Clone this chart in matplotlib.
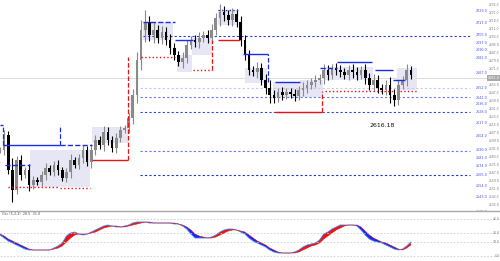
import matplotlib
matplotlib.use("Agg")
import matplotlib.pyplot as plt
import numpy as np

# ---- data (price units) ----
closes = [2590,2605,2570,2550,2580,2565,2570,2555,2560,2558,
          2565,2572,2568,2575,2570,2562,2568,2580,2575,2582,
          2590,2578,2590,2600,2595,2608,2600,2592,2602,2610,
          2612,2622,2645,2680,2710,2718,2705,2710,2702,2708,
          2700,2692,2685,2678,2682,2695,2700,2698,2702,2705,
          2702,2710,2722,2728,2725,2720,2726,2718,2700,2685,
          2670,2668,2672,2660,2652,2645,2642,2648,2645,2648,
          2646,2644,2650,2652,2655,2658,2660,2662,2670,2665,
          2672,2670,2668,2665,2670,2668,2665,2670,2662,2655,
          2660,2652,2650,2655,2645,2640,2655,2660,2670,2665]
wicks = [3,5,4,12,4,5,3,6,4,3, 4,5,3,4,5,3,4,6,3,4,
         5,4,6,5,4,6,5,4,5,4, 3,5,6,8,10,12,6,8,5,6,
         5,6,5,4,6,5,4,5,6,4, 5,6,5,8,6,5,6,5,6,5,
         5,4,6,5,6,8,5,4,5,4, 4,5,4,6,5,4,5,4,6,5,
         4,5,5,4,5,6,5,4,6,5, 6,5,4,5,8,6,5,4,6,4]

osc_main = [26,23,20,18,16,14,12,11,11,11, 11,11,11,13,15,18,25,28,29,27,
            26,27,29,31,33,35,36,35,34,34, 35,36,38,39,39,39,38,38,38,38,
            38,38,37,37,35,32,27,23,23,23, 23,24,26,29,31,32,32,31,29,27,
            23,20,18,16,14,11,9,8,8,8, 8,9,11,14,16,17,18,21,27,29,
            32,34,36,36,36,36,35,31,26,22, 20,19,18,16,14,12,11,12,15,19]
osc_signal = [27,25,22,20,18,16,14,12,11,11, 11,11,11,12,13,15,19,23,26,27,
              27,27,28,29,31,33,34,35,35,34, 34,35,36,37,38,39,39,38,38,38,
              38,38,38,37,36,34,31,27,25,24, 23,23,24,26,28,30,31,31,30,29,
              26,23,20,18,16,13,11,9,8,8, 8,8,9,11,13,15,16,18,22,25,
              28,31,33,35,36,36,36,34,30,26, 23,21,19,18,16,14,12,11,13,16]

box_t0 = [7.2,22.2,34.5,42.7,46.3,52.5,59.0,65.8,72.3,78.3,95.7]
box_t1 = [21.7,30.8,41.7,46.3,51.1,57.3,64.3,72.3,77.8,89.9,100.5]
box_hi = [2590,2613,2718,2685,2702,2730,2672,2658,2660,2673,2672]
box_lo = [2553,2597,2700,2668,2685,2715,2657,2643,2643,2660,2650]

blue_t0 = [0,0.7,1.2,14.5,34.5,42.2,52.5,58.6,66.3,77.1,81.2,90.4,94.7]
blue_t1 = [0.7,14.5,7.2,22.2,42.2,46.5,57.3,64.6,72.3,81.2,89.6,94.7,97.6]
blue_p = [2615,2595,2575,2595,2718,2700,2730,2686,2658,2672,2678,2670,2660]
blue_ls = ['--','-','--','--','--','-',':','-','-','--','-','-','-']

red_t0 = [2,14.5,22.2,34,46.5,52.5,66.3,78.3,96.4]
red_t1 = [14,21.7,30.8,42.2,51.1,57.8,77.6,95.2,100.5]
red_p = [2553,2552,2580,2683,2670,2700,2628,2649,2649]
red_ls = [':',':','-',':',':','-','-',':',':']

level_start = [34.5,33.7,33.7,33.7,33.7,33.7]
level_price = [2704,2652,2643,2628,2589,2565]
level_color = ['#2a3ae8','#c8c8f0','#6a78f0','#3344d8','#6a78f0','#2233c8']

label_prices = [2729,2717,2705,2697,2690,2682,2667,2652,2642,2636,2628,2617,
                2604,2590,2582,2574,2565,2554,2543,2528]
osc_levels = [42,28,19,5]

# ---- figure ----
fig = plt.figure(figsize=(5.0, 2.61), dpi=100)
ax = fig.add_axes([0, 51/261, 1, 210/261])
ax2 = fig.add_axes([0, 0, 1, 50/261])
XMAX = 500/4.15
ax.set_xlim(0, XMAX); ax.set_ylim(2530, 2740)
ax2.set_xlim(0, XMAX); ax2.set_ylim(0, 50)
for a in (ax, ax2):
    a.set_xticks([]); a.set_yticks([])
    for s in a.spines.values():
        s.set_visible(False)
ax2.spines['top'].set_visible(True)
ax2.spines['top'].set_color('#aaaaaa')
ax2.spines['top'].set_linewidth(1.0)

x = np.arange(len(closes))

# boxes
for t0, t1, hi, lo in zip(box_t0, box_t1, box_hi, box_lo):
    ax.fill_between([t0, t1], lo, hi, color='#e6e6f4', lw=0, zorder=1)

# current price line
ax.axhline(2662, color='#dddddd', lw=0.8, zorder=0.5)

# long levels
for t0, p, c in zip(level_start, level_price, level_color):
    ax.hlines(p, t0, 113.3, colors=c, linestyles=(0, (2, 2)), lw=0.8, zorder=2)

# candles
opens = [closes[0]] + closes[:-1]
for i, (o, c, w) in enumerate(zip(opens, closes, wicks)):
    col = '#8a8a8a' if c >= o else '#000000'
    lo, hi = min(o, c), max(o, c)
    ax.vlines(i, lo - w, hi + w, color=col, lw=0.8, zorder=3)
    ax.bar(i, max(hi - lo, 1), bottom=lo, width=0.65, color=col, lw=0, zorder=3)

# steps
for t0, t1, p, ls in zip(blue_t0, blue_t1, blue_p, blue_ls):
    ax.hlines(p, t0, t1, colors='#1a2ee0', linestyles=ls, lw=1.0, zorder=4)
for t0, t1, p, ls in zip(red_t0, red_t1, red_p, red_ls):
    ax.hlines(p, t0, t1, colors='#ee1111', linestyles=ls, lw=1.0, zorder=4)
ax.vlines([30.8, 51.1, 77.6], [2580, 2670, 2628], [2683, 2700, 2649],
          colors='#ee1111', linestyles='--', lw=0.9, zorder=4)
ax.vlines([64.6, 14.5, 0.7], [2658, 2595, 2595], [2686, 2615, 2615],
          colors='#1a2ee0', linestyles='--', lw=0.9, zorder=4)

# labels
ax.text(92, 2615, '2616.18', fontsize=4.5, ha='center', va='center', color='#111111')
for p in label_prices:
    ax.text(116, p, f'{p:.1f}', fontsize=2.4, color='#4455ee', ha='center', va='center')
for p in range(2535, 2740, 8):
    ax.text(120.4, p, f'{p}.0', fontsize=2.2, color='#777777', ha='right', va='center')
ax.text(120.4, 2662, '2662.0', fontsize=2.4, color='white', ha='right', va='center',
        bbox=dict(boxstyle='square,pad=0.2', fc='#aaaaaa', ec='none'))

# oscillator
for lv in osc_levels:
    ax2.axhline(lv, color='#cccccc', lw=0.6, ls=(0, (2, 2)))
m = np.array(osc_main, float); s = np.array(osc_signal, float)
ax2.fill_between(x, m, s, where=m >= s, interpolate=True, color='#ee1111', lw=0)
ax2.fill_between(x, m, s, where=m < s, interpolate=True, color='#1a22ee', lw=0)
ax2.plot(x, m, color='#3a8cf0', lw=0.6)
ax2.plot(x, s, color='#ee1111', lw=0.4)
ax2.text(0.5, 47, 'Osc (5,3,3)  28.5  31.0', fontsize=2.4, color='#555555', va='center')
for lv in osc_levels:
    ax2.text(120.4, lv, f'{lv}.0', fontsize=2.2, color='#777777', ha='right', va='center')

fig.savefig('out.png', dpi=100, facecolor='white')
